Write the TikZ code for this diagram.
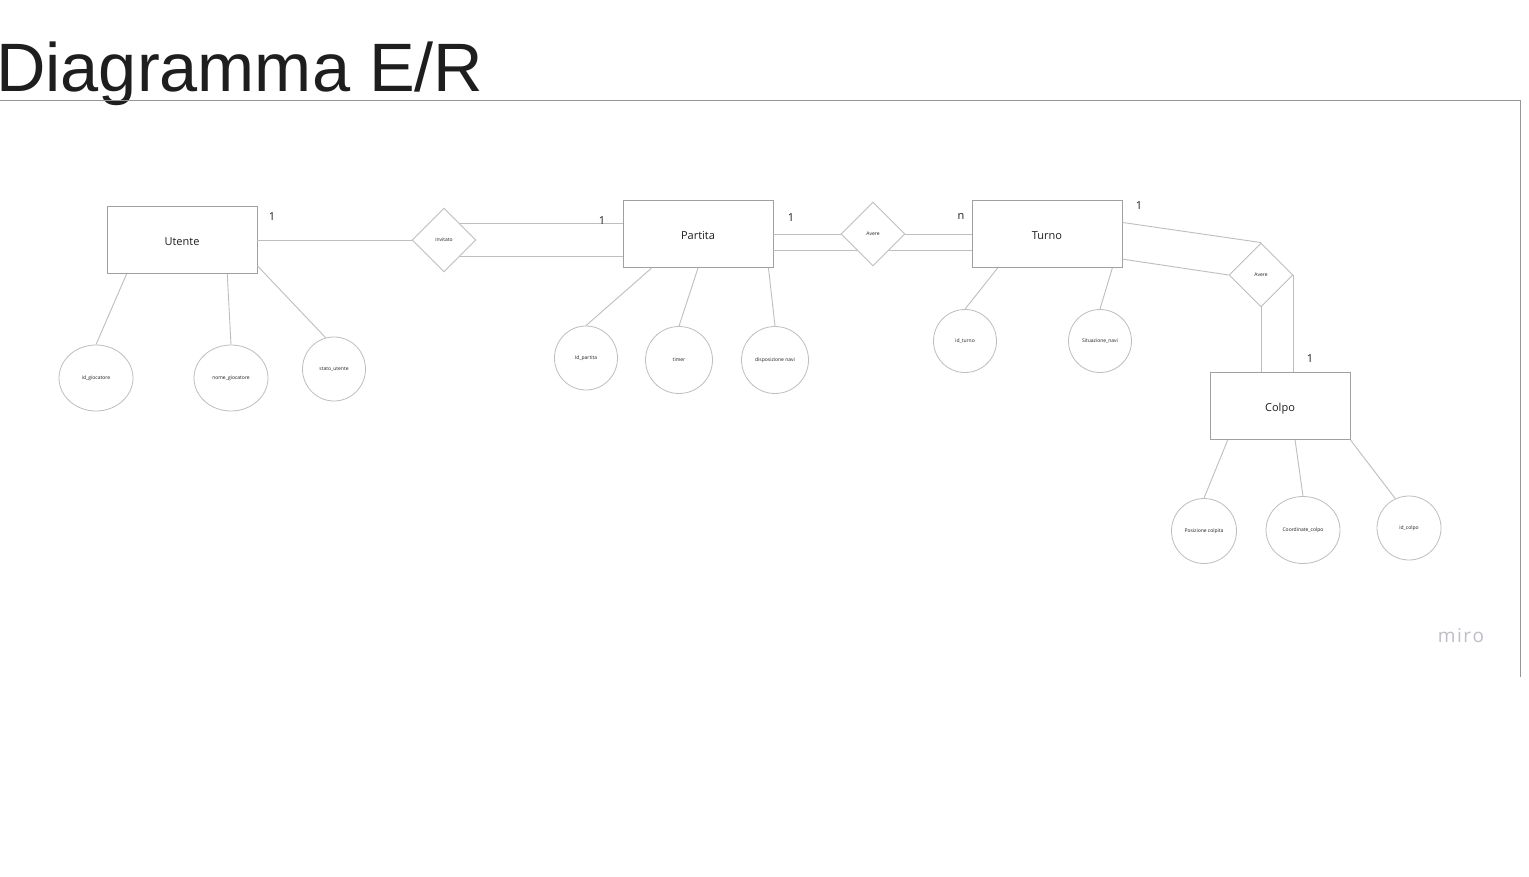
\documentclass[tikz,border=0pt]{standalone}
\usepackage{fontspec}
\setmainfont{Open Sans}
\newfontfamily\titlefont{Liberation Sans}
\usetikzlibrary{shapes.geometric,calc}
\definecolor{ln}{RGB}{190,190,190}
\definecolor{bx}{RGB}{160,160,160}
\definecolor{fr}{RGB}{150,150,150}
\definecolor{tx}{RGB}{30,30,30}
\definecolor{mirocol}{RGB}{190,190,202}
\tikzset{
  entity/.style={draw=bx, line width=0.9pt, minimum width=150, minimum height=67, inner sep=0, text height=11pt, text depth=0pt, font=\fontsize{11}{13}\selectfont, text=tx},
  rel/.style={draw=ln, line width=0.9pt, shape=diamond, minimum width=64, minimum height=64, inner sep=0, font=\fontsize{5}{6}\selectfont, text=tx},
  attr/.style={draw=ln, line width=0.8pt, shape=ellipse, inner sep=0, font=\fontsize{5}{6}\selectfont, text=tx},
  conn/.style={draw=ln, line width=0.9pt},
  card/.style={font=\fontsize{11}{13}\selectfont, text=tx, inner sep=0}
}
\begin{document}
\begin{tikzpicture}[x=1pt,y=-1pt]
\useasboundingbox (0,0) rectangle (1529,877);
\fill[white] (0,0) rectangle (1529,877);
% title and frame
\node[anchor=base west, inner sep=0, font=\titlefont\fontsize{68.5}{80}\selectfont, text=tx] (title) at (-4,92) {Diagramma E/R};
\coordinate (f1) at (0,100);
\coordinate (f2) at (1520,100);
\coordinate (f3) at (1520,677);
\draw[fr, line width=0.8pt] (f1) -- (f2) -- (f3);
\node[font=\fontsize{19}{22}\selectfont, text=mirocol, inner sep=0] (miro) at (1461,636) {m\kern1.5pt i\kern1.5pt r\kern1.5pt o};
% entities
\node[entity] (utente) at (182,240) {Utente};
\node[entity] (partita) at (698,234) {Partita};
\node[entity] (turno) at (1047,234) {Turno};
\node[entity, minimum width=140] (colpo) at (1280,406) {Colpo};
% relationships
\node[rel] (inv) at (444,240) {invitato};
\node[rel] (av1) at (873,234) {Avere};
\node[rel] (av2) at (1261,275) {\raisebox{-2pt}{Avere}};
% connectors
\draw[conn] (utente.east) -- (inv.west);
\draw[conn] (inv.north east) -- (inv.north east -| partita.west);
\draw[conn] (inv.south east) -- (inv.south east -| partita.west);
\draw[conn] (av1.west) -- (av1.west -| partita.east);
\draw[conn] (av1.south west) -- (av1.south west -| partita.east);
\draw[conn] (av1.east) -- (av1.east -| turno.west);
\draw[conn] (av1.south east) -- (av1.south east -| turno.west);
\draw[conn] ($(turno.north east)!0.33!(turno.south east)$) -- (av2.north);
\draw[conn] ($(turno.north east)!0.87!(turno.south east)$) -- (av2.west);
\draw[conn] (av2.south) -- (av2.south |- colpo.north);
\draw[conn] (av2.east) -- (av2.east |- colpo.north);
% cardinalities
\node[card] (c1) at (272,217) {1};
\node[card] (c2) at (602,221) {1};
\node[card] (c3) at (791,218) {1};
\node[card] (c4) at (961,217) {n};
\node[card] (c5) at (1139,206) {1};
\node[card] (c6) at (1310,359) {1};
% attributes
\node[attr, minimum width=74, minimum height=66] (idg) at (96,378) {id\_giocatore};
\node[attr, minimum width=74, minimum height=66] (nomeg) at (231,378) {nome\_giocatore};
\node[attr, minimum width=63, minimum height=64] (statou) at (334,369) {stato\_utente};
\node[attr, minimum width=63, minimum height=64] (idp) at (586,358) {Id\_partita};
\node[attr, minimum width=67, minimum height=67] (timer) at (679,360) {timer};
\node[attr, minimum width=67, minimum height=67] (disp) at (775,360) {disposizione navi};
\node[attr, minimum width=63, minimum height=63] (idt) at (965,341) {id\_turno};
\node[attr, minimum width=63, minimum height=63] (sitn) at (1100,341) {Situazione\_navi};
\node[attr, minimum width=65, minimum height=65] (posc) at (1204,531) {Posizione colpita};
\node[attr, minimum width=74, minimum height=67] (coord) at (1303,530) {Coordinate\_colpo};
\node[attr, minimum width=64, minimum height=64] (idc) at (1409,528) {id\_colpo};
% attribute links
\draw[conn] ($(utente.south west)!0.133!(utente.south east)$) -- (idg.north);
\draw[conn] ($(utente.south west)!0.8!(utente.south east)$) -- (nomeg.north);
\draw[conn] ($(utente.north east)!0.88!(utente.south east)$) -- (statou.105);
\draw[conn] ($(partita.south west)!0.193!(partita.south east)$) -- (idp.north);
\draw[conn] (partita.south) -- (timer.north);
\draw[conn] ($(partita.south west)!0.967!(partita.south east)$) -- (disp.north);
\draw[conn] ($(turno.south west)!0.173!(turno.south east)$) -- (idt.north);
\draw[conn] ($(turno.south west)!0.933!(turno.south east)$) -- (sitn.north);
\draw[conn] ($(colpo.south west)!0.129!(colpo.south east)$) -- (posc.north);
\draw[conn] ($(colpo.south west)!0.607!(colpo.south east)$) -- (coord.north);
\draw[conn] (colpo.south east) -- (idc.115);
\end{tikzpicture}
\end{document}
